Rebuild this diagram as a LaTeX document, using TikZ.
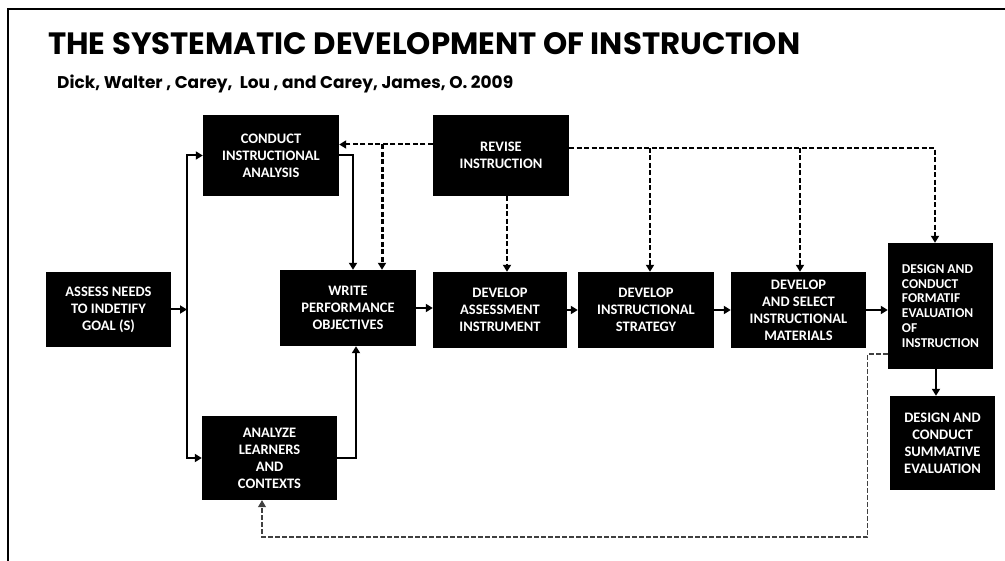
\documentclass[tikz,border=0pt]{standalone}
\usepackage{fontspec}
\setmainfont{Carlito}
\newfontfamily\titlefont{Poppins}
\usetikzlibrary{arrows.meta}

\begin{document}
\begin{tikzpicture}[x=1pt,y=-1pt]
\tikzstyle{every node}+=[inner sep=0pt]
\tikzstyle{blk}=[fill=black,text=white,align=center,font=\bfseries\fontsize{14.5}{17}\selectfont]
\tikzstyle{link}=[line width=2pt,-{Triangle[length=7pt,width=8pt]}]
\tikzstyle{fb}=[line width=2pt,dash pattern=on 5pt off 2.5pt,-{Triangle[length=7pt,width=8pt]}]
\tikzstyle{back}=[line width=1.2pt,black!75,dash pattern=on 5pt off 2pt,-{Triangle[length=7pt,width=8pt]}]
\useasboundingbox (0,0) rectangle (1005,561);

\draw[line width=2pt] (8,561) -- (8,9) -- (1005,9);

\node[anchor=base west] (title) at (48,55) {\resizebox{752pt}{!}{\titlefont\bfseries\fontsize{27}{30}\selectfont THE SYSTEMATIC DEVELOPMENT OF INSTRUCTION}};
\node[anchor=base west] (ref) at (57,89) {\resizebox{456pt}{!}{\titlefont\bfseries\fontsize{13}{15}\selectfont Dick, Walter , Carey,\ \ Lou , and Carey, James, O.\ 2009}};

\node[blk,minimum width=125,minimum height=75] (assess) at (108.5,309.5) {ASSESS NEEDS\\TO INDETIFY\\GOAL (S)};
\node[blk,minimum width=136,minimum height=81] (conduct) at (271,155.5) {CONDUCT\\INSTRUCTIONAL\\ANALYSIS};
\node[blk,minimum width=135,minimum height=84] (analyze) at (269.5,458) {ANALYZE\\LEARNERS\\AND\\CONTEXTS};
\node[blk,minimum width=136,minimum height=76] (write) at (348,308) {WRITE\\PERFORMANCE\\OBJECTIVES};
\node[blk,minimum width=136,minimum height=81] (revise) at (501,155.5) {REVISE\\INSTRUCTION};
\node[blk,minimum width=134,minimum height=76] (assessment) at (500,310) {DEVELOP\\ASSESSMENT\\INSTRUMENT};
\node[blk,minimum width=136,minimum height=76] (strategy) at (646,310) {DEVELOP\\INSTRUCTIONAL\\STRATEGY};
\node[blk,minimum width=135,minimum height=76] (materials) at (798.5,310) {DEVELOP\\AND SELECT\\INSTRUCTIONAL\\MATERIALS};
\node[blk,minimum width=105,minimum height=126,align=left,font=\bfseries\fontsize{13.5}{14.8}\selectfont] (formatif) at (940.5,306) {DESIGN AND\\CONDUCT\\FORMATIF\\EVALUATION\\OF\\INSTRUCTION};
\node[blk,minimum width=105,minimum height=94,font=\bfseries\fontsize{14.5}{17}\selectfont] (summative) at (942.5,443) {DESIGN AND\\CONDUCT\\SUMMATIVE\\EVALUATION};

\coordinate (spine) at (187,309);
\draw[link] (assess.east) -- (assess.east -| spine);
\draw[link] (spine) |- (conduct.west);
\draw[link] (spine) |- (analyze.west);
\draw[link] (conduct.east) -| ([xshift=5]write.north);
\draw[link] (analyze.east) -| ([xshift=8]write.south);
\draw[link] (write.east) -- (write.east -| assessment.west);
\draw[link] (assessment.east) -- (strategy.west);
\draw[link] (strategy.east) -- (materials.west);
\draw[link] (materials.east) -- (materials.east -| formatif.west);
\draw[link] ([xshift=-4.5]formatif.south) -- ([xshift=-6.5]summative.north);

\coordinate (rw) at ([yshift=11]revise.west);
\coordinate (re) at ([yshift=7.5]revise.east);
\coordinate (wn) at ([xshift=34]write.north);
\coordinate (sn) at ([xshift=4]strategy.north);
\coordinate (mn) at ([xshift=1.5]materials.north);
\coordinate (fn) at ([xshift=-5.5]formatif.north);
\draw[fb] (rw) -- (rw -| conduct.east);
\draw[fb,line width=3pt] (wn |- rw) -- (wn);
\draw[fb] ([xshift=6]revise.south) -- ([xshift=7]assessment.north);
\draw[fb] (re) -| (fn);
\draw[fb] (sn |- re) -- (sn);
\draw[fb] (mn |- re) -- (mn);

\coordinate (fw) at ([yshift=-48]formatif.west);
\coordinate (an) at ([xshift=-7.5]analyze.south);
\draw[back] (fw) -- ++(-20,0) -- ++(0,183) -| (an);
\end{tikzpicture}
\end{document}
